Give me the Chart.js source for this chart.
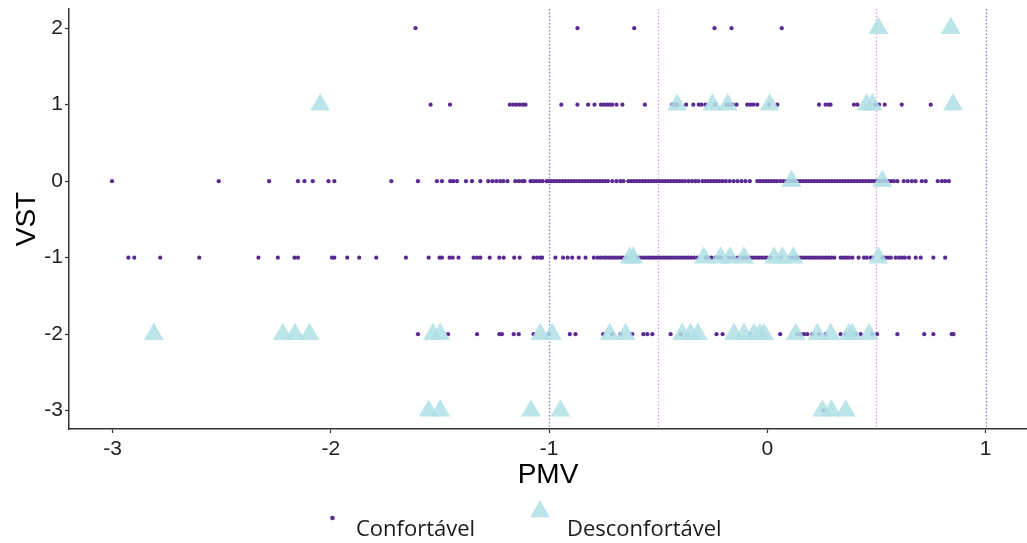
<!DOCTYPE html>
<html>
<head>
<meta charset="utf-8">
<script src="https://cdn.jsdelivr.net/npm/chart.js@4/dist/chart.umd.min.js"></script>
<style>
  html, body { margin: 0; padding: 0; background: #ffffff; }
  canvas { display: block; }
</style>
</head>
<body>
<canvas id="chart" width="1027" height="543"></canvas>
<script>
// PMV values of the "Confortável" votes, one array per VST level
const confVst2 = [-1.612, -0.870, -0.610, -0.242, -0.164, 0.066];
const confVst1 = [-1.543, -1.454, -1.180, -1.165, -1.150, -1.135, -1.120, -1.108, -0.944, -0.870,
  -0.821, -0.792, -0.762, -0.748, -0.735, -0.722, -0.711, -0.691, -0.664, -0.561, -0.436, -0.425,
  -0.413, -0.372, -0.339, -0.314, -0.301, -0.283, -0.240, -0.187, -0.173, -0.159, -0.141, -0.092,
  -0.077, -0.063, -0.046, 0.008, 0.046, 0.237, 0.267, 0.281, 0.290, 0.397, 0.413, 0.497, 0.512,
  0.538, 0.616, 0.749];
const confVst0 = [-3.003, -2.514, -2.283, -2.151, -2.121, -2.083, -2.011, -1.984, -1.723, -1.601,
  -1.514, -1.491, -1.453, -1.439, -1.422, -1.381, -1.353, -1.315, -1.279, -1.260, -1.242, -1.224,
  -1.210, -1.191, -1.155, -1.139, -1.124, -1.113, -1.085, -1.071, -1.058, -1.044, -1.030, -1.012,
  -1.003, -0.990, -0.977, -0.964, -0.951, -0.938, -0.925, -0.912, -0.899, -0.886, -0.873, -0.860,
  -0.847, -0.834, -0.821, -0.808, -0.795, -0.782, -0.769, -0.756, -0.743, -0.730, -0.710, -0.691,
  -0.673, -0.659, -0.637, -0.624, -0.611, -0.598, -0.585, -0.572, -0.559, -0.546, -0.533, -0.520,
  -0.507, -0.494, -0.481, -0.468, -0.455, -0.442, -0.429, -0.416, -0.403, -0.390, -0.377, -0.361,
  -0.345, -0.330, -0.316, -0.297, -0.284, -0.271, -0.258, -0.245, -0.232, -0.219, -0.205, -0.190,
  -0.172, -0.154, -0.136, -0.118, -0.100, -0.080, -0.046, -0.033, -0.020, -0.007, 0.006, 0.019,
  0.032, 0.045, 0.060, 0.073, 0.086, 0.099, 0.112, 0.125, 0.138, 0.151, 0.164, 0.177, 0.190, 0.203,
  0.216, 0.229, 0.242, 0.255, 0.268, 0.281, 0.294, 0.307, 0.320, 0.333, 0.346, 0.359, 0.372, 0.385,
  0.398, 0.411, 0.424, 0.437, 0.450, 0.463, 0.476, 0.489, 0.502, 0.515, 0.528, 0.541, 0.554, 0.567,
  0.580, 0.596, 0.625, 0.643, 0.662, 0.679, 0.708, 0.726, 0.781, 0.800, 0.815, 0.832];
const confVstM1 = [-2.928, -2.901, -2.782, -2.603, -2.332, -2.243, -2.167, -2.151, -1.995, -1.984,
  -1.925, -1.870, -1.792, -1.656, -1.552, -1.502, -1.491, -1.456, -1.442, -1.415, -1.346, -1.330,
  -1.315, -1.272, -1.228, -1.208, -1.160, -1.135, -1.071, -1.055, -1.040, -1.032, -0.971, -0.936,
  -0.915, -0.894, -0.864, -0.833, -0.795, -0.778, -0.765, -0.750, -0.738, -0.725, -0.712, -0.699,
  -0.686, -0.673, -0.660, -0.647, -0.630, -0.596, -0.583, -0.570, -0.557, -0.544, -0.531, -0.518,
  -0.505, -0.492, -0.479, -0.466, -0.453, -0.440, -0.427, -0.414, -0.401, -0.388, -0.375, -0.362,
  -0.349, -0.336, -0.321, -0.283, -0.270, -0.256, -0.237, -0.222, -0.211, -0.183, -0.168, -0.153,
  -0.135, -0.115, -0.102, -0.089, -0.076, -0.063, -0.050, -0.037, -0.024, -0.011, 0.002, 0.015,
  0.046, 0.061, 0.099, 0.112, 0.125, 0.138, 0.151, 0.164, 0.177, 0.190, 0.203, 0.216, 0.229, 0.242,
  0.255, 0.268, 0.281, 0.294, 0.307, 0.336, 0.349, 0.362, 0.375, 0.390, 0.418, 0.443, 0.456, 0.474,
  0.482, 0.527, 0.540, 0.553, 0.566, 0.588, 0.604, 0.617, 0.630, 0.649, 0.680, 0.703, 0.761, 0.815];
const confVstM2 = [-1.601, -1.463, -1.330, -1.228, -1.216, -1.162, -1.139, -1.071, -1.002, -0.905,
  -0.879, -0.752, -0.711, -0.673, -0.619, -0.568, -0.550, -0.527, -0.443, -0.397, -0.367, -0.233,
  -0.205, -0.081, -0.040, -0.030, 0.059, 0.138, 0.153, 0.168, 0.183, 0.206, 0.237, 0.267, 0.336,
  0.359, 0.405, 0.428, 0.480, 0.503, 0.596, 0.719, 0.761, 0.845, 0.853];
const confVstM3 = [0.257];

// PMV values of the "Desconfortável" votes, one array per VST level
const descVst2 = [0.509, 0.841];
const descVst1 = [-2.049, -0.413, -0.251, -0.182, 0.011, 0.455, 0.482, 0.851];
const descVst0 = [0.111, 0.527];
const descVstM1 = [-0.630, -0.615, -0.291, -0.214, -0.171, -0.107, 0.031, 0.069, 0.119, 0.509];
const descVstM2 = [-2.811, -2.220, -2.164, -2.098, -1.532, -1.499, -1.040, -0.986, -0.722, -0.650,
  -0.390, -0.352, -0.318, -0.153, -0.107, -0.061, -0.034, -0.015, 0.130, 0.229, 0.290, 0.374,
  0.390, 0.466];
const descVstM3 = [-1.552, -1.499, -1.083, -0.948, 0.252, 0.294, 0.359];

// Axis ticks and the dotted comfort-band guides
const PMV_TICKS = [-3, -2, -1, 0, 1];
const VST_TICKS = [-3, -2, -1, 0, 1, 2];
const GUIDE_LINES = [-1, -0.5, 0.5, 1];
const SERIES_NAMES = ['Confortável', 'Desconfortável'];

function toPoints(rows) {
  const pts = [];
  rows.forEach(([vst, list]) => list.forEach(pmv => pts.push({ x: pmv, y: vst })));
  return pts;
}

const confPoints = toPoints([[2, confVst2], [1, confVst1], [0, confVst0],
  [-1, confVstM1], [-2, confVstM2], [-3, confVstM3]]);
const descPoints = toPoints([[2, descVst2], [1, descVst1], [0, descVst0],
  [-1, descVstM1], [-2, descVstM2], [-3, descVstM3]]);

const DOT_COLOR = '#5a2a92';
const TRI_COLOR = 'rgba(176, 224, 230, 0.85)';
const GUIDE_COLORS = ['#8282cf', '#d9a3e0', '#d9a3e0', '#8282cf'];
const AXIS_COLOR = '#333333';
const FONT = '"Liberation Sans", Arial, sans-serif';

// Dotted vertical guides drawn beneath the points
const guidePlugin = {
  id: 'guides',
  beforeDatasetsDraw(chart) {
    const { ctx, chartArea, scales } = chart;
    ctx.save();
    ctx.lineWidth = 1.3;
    ctx.setLineDash([1.5, 2]);
    GUIDE_LINES.forEach((v, i) => {
      const x = Math.round(scales.x.getPixelForValue(v)) + 0.5;
      ctx.strokeStyle = GUIDE_COLORS[i];
      ctx.beginPath();
      ctx.moveTo(x, chartArea.top);
      ctx.lineTo(x, chartArea.bottom);
      ctx.stroke();
    });
    ctx.restore();
  }
};

// Bottom legend with one key per series
const legendPlugin = {
  id: 'bottomLegend',
  afterDraw(chart) {
    const { ctx } = chart;
    ctx.save();
    // dot key
    ctx.fillStyle = DOT_COLOR;
    ctx.beginPath();
    ctx.arc(332.5, 518, 2.3, 0, Math.PI * 2);
    ctx.fill();
    // triangle key
    const r = 11.5, cx = 540, cy = 511.5;
    ctx.fillStyle = TRI_COLOR;
    ctx.beginPath();
    ctx.moveTo(cx, cy - r);
    ctx.lineTo(cx + r * Math.sin(Math.PI * 2 / 3), cy - r * Math.cos(Math.PI * 2 / 3));
    ctx.lineTo(cx - r * Math.sin(Math.PI * 2 / 3), cy - r * Math.cos(Math.PI * 2 / 3));
    ctx.closePath();
    ctx.fill();
    // labels
    ctx.fillStyle = '#1a1a1a';
    ctx.font = '22px "Open Sans", sans-serif';
    ctx.textBaseline = 'alphabetic';
    ctx.textAlign = 'left';
    ctx.fillText(SERIES_NAMES[0], 356, 535.5);
    ctx.fillText(SERIES_NAMES[1], 567, 535.5);
    ctx.restore();
  }
};

new Chart(document.getElementById('chart'), {
  type: 'scatter',
  data: {
    datasets: [
      {
        label: SERIES_NAMES[0],
        data: confPoints,
        pointStyle: 'circle',
        pointRadius: 2.1,
        pointBorderWidth: 0,
        backgroundColor: DOT_COLOR,
        borderColor: DOT_COLOR,
        order: 2
      },
      {
        label: SERIES_NAMES[1],
        data: descPoints,
        pointStyle: 'triangle',
        pointRadius: 11.5,
        pointBorderWidth: 0,
        backgroundColor: TRI_COLOR,
        borderColor: TRI_COLOR,
        order: 1
      }
    ]
  },
  options: {
    responsive: false,
    animation: false,
    devicePixelRatio: 1,
    layout: { autoPadding: false, padding: { top: 9, right: 0, bottom: 51, left: 0 } },
    plugins: {
      legend: { display: false },
      tooltip: { enabled: false }
    },
    scales: {
      x: {
        type: 'linear',
        min: -3.2,
        max: 1.19,
        afterBuildTicks(scale) { scale.ticks = PMV_TICKS.map(v => ({ value: v })); },
        afterFit(scale) { scale.height = 63; scale.paddingLeft = 0; scale.paddingRight = 0; },
        ticks: {
          color: '#222222',
          font: { family: FONT, size: 21 },
          padding: 4,
          maxRotation: 0,
          callback: v => String(v)
        },
        grid: {
          display: true,
          drawOnChartArea: false,
          drawTicks: true,
          tickLength: 4,
          tickColor: AXIS_COLOR,
          tickWidth: 1.2
        },
        border: { display: true, color: AXIS_COLOR, width: 1.5 },
        title: {
          display: true,
          text: 'PMV',
          color: '#000000',
          font: { family: FONT, size: 28 },
          padding: { top: 0, bottom: 0 }
        }
      },
      y: {
        type: 'linear',
        min: -3.24,
        max: 2.25,
        afterBuildTicks(scale) { scale.ticks = VST_TICKS.map(v => ({ value: v })); },
        afterFit(scale) { scale.width = 69; scale.paddingTop = 0; scale.paddingBottom = 0; },
        ticks: {
          color: '#222222',
          font: { family: FONT, size: 21 },
          padding: 2,
          callback: v => String(v)
        },
        grid: {
          display: true,
          drawOnChartArea: false,
          drawTicks: true,
          tickLength: 4,
          tickColor: AXIS_COLOR,
          tickWidth: 1.2
        },
        border: { display: true, color: AXIS_COLOR, width: 1.5 },
        title: {
          display: true,
          text: 'VST',
          color: '#000000',
          font: { family: FONT, size: 28 },
          padding: { top: 10, bottom: 0 }
        }
      }
    }
  },
  plugins: [guidePlugin, legendPlugin]
});
</script>
</body>
</html>
